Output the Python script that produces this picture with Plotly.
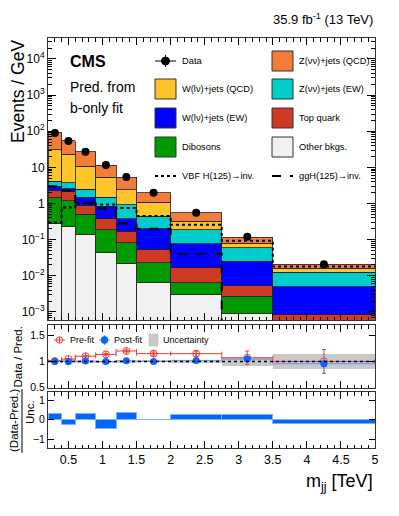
import numpy as np
import plotly.graph_objects as go

# m_jj bin edges (TeV)
edges = [0.2, 0.4, 0.6, 0.9, 1.2, 1.5, 2.0, 2.75, 3.5, 5.0]

# post-fit (b-only) yields, events / GeV, stacked bottom -> top
other_bkgs = [0.28, 0.23, 0.14, 0.044, 0.022, 0.0064, 0.003, 0.0009, 0.0003]
dibosons = [1.22, 0.97, 0.36, 0.146, 0.061, 0.0166, 0.0035, 0.0018, 0.0002]
top_quark = [0.8, 0.9, 0.38, 0.19, 0.087, 0.03, 0.0105, 0.0026, 0.00035]
wlv_ew = [0.7, 0.5, 0.62, 0.45, 0.21, 0.147, 0.06, 0.0197, 0.00415]
znn_ew = [1.1, 1.2, 1.0, 0.67, 0.56, 0.24, 0.113, 0.035, 0.0075]
wlv_qcd = [26.9, 19.2, 8.2, 3.8, 1.46, 0.63, 0.13, 0.02, 0.0035]
znn_qcd = [61.0, 32.0, 16.3, 6.3, 2.9, 0.93, 0.23, 0.035, 0.005]

data = [90.0, 54.0, 27.0, 11.6, 5.4, 2.0, 0.56, 0.12, 0.021]
data_err = [0.7, 0.5, 0.3, 0.2, 0.13, 0.06, 0.027, 0.013, 0.004]

vbf_signal = [0.3, 0.78, 1.0, 0.94, 0.75, 0.45, 0.26, 0.094, 0.018]
ggh_signal = [3.0, 2.3, 1.05, 0.73, 0.28, 0.2, 0.041, 0.0004, 0.0001]

# ratio panel
prefit_ratio = [1.01, 1.045, 1.10, 1.135, 1.20, 1.15, 1.15, 1.07, 1.0]
prefit_err = [0.01, 0.01, 0.012, 0.015, 0.02, 0.03, 0.05, 0.13, 0.23]
postfit_ratio = [1.0, 0.995, 1.01, 1.0, 1.015, 1.0, 1.02, 1.045, 0.955]
postfit_err = [0.01, 0.01, 0.012, 0.015, 0.02, 0.03, 0.05, 0.12, 0.2]
uncertainty = [0.01, 0.01, 0.012, 0.015, 0.015, 0.02, 0.03, 0.08, 0.14]

# pull panel
pulls = [0.3, -0.25, 0.3, -0.43, 0.35, 0.02, 0.27, 0.26, -0.2]

FONT = "Liberation Sans, Arial, sans-serif"
OFF = 8  # page body margin
W, H = 399 - OFF, 516 - OFF
L, R, T, B = 48, 375, 38, 448  # frame in window pixels

COLORS = {
    "Other bkgs.": "#f0f0f0",
    "Dibosons": "#009a00",
    "Top quark": "#cf3a22",
    "W(lν)+jets (EW)": "#0000ff",
    "Z(νν)+jets (EW)": "#00cccc",
    "W(lν)+jets (QCD)": "#fec52a",
    "Z(νν)+jets (QCD)": "#f47c3a",
}

edges_a = np.array(edges)
centers = 0.5 * (edges_a[1:] + edges_a[:-1])
widths = edges_a[1:] - edges_a[:-1]


def px(xp):
    return (xp - L) / (R - L)


def py(yp):
    return (B - yp) / (B - T)


fig = go.Figure()

stack = [
    ("Other bkgs.", other_bkgs),
    ("Dibosons", dibosons),
    ("Top quark", top_quark),
    ("W(lν)+jets (EW)", wlv_ew),
    ("Z(νν)+jets (EW)", znn_ew),
    ("W(lν)+jets (QCD)", wlv_qcd),
    ("Z(νν)+jets (QCD)", znn_qcd),
]
for name, vals in stack:
    fig.add_trace(go.Bar(
        x=centers, y=vals, width=widths, name=name,
        marker=dict(color=COLORS[name], line=dict(color="#222222", width=0.8)),
        xaxis="x", yaxis="y", showlegend=False,
    ))


def step(vals):
    return list(edges_a), list(vals) + [vals[-1]]


sx, sy = step(vbf_signal)
fig.add_trace(go.Scatter(x=sx, y=sy, mode="lines", line=dict(shape="hv", color="black", width=2, dash="dot"),
                         xaxis="x", yaxis="y", showlegend=False))
sx, sy = step(ggh_signal)
fig.add_trace(go.Scatter(x=sx, y=sy, mode="lines", line=dict(shape="hv", color="black", width=2, dash="dash"),
                         xaxis="x", yaxis="y", showlegend=False))

fig.add_trace(go.Scatter(
    x=centers, y=data, mode="markers",
    marker=dict(color="black", size=8),
    error_y=dict(type="data", array=data_err, color="black", thickness=1, width=0),
    xaxis="x", yaxis="y", showlegend=False,
))

# ratio panel
unc = np.array(uncertainty)
fig.add_trace(go.Bar(
    x=centers, y=2 * unc, base=1 - unc, width=widths,
    marker=dict(color="#c8c8c8", line=dict(width=0)),
    xaxis="x2", yaxis="y2", showlegend=False,
))
fig.add_trace(go.Scatter(
    x=centers, y=prefit_ratio, mode="markers",
    marker=dict(symbol="circle-cross-open", color="#f03c3c", size=7, line=dict(width=1)),
    error_y=dict(type="data", array=prefit_err, color="#f03c3c", thickness=1, width=2),
    error_x=dict(type="data", array=list(widths / 2), color="#f03c3c", thickness=1, width=2),
    xaxis="x2", yaxis="y2", showlegend=False,
))
fig.add_trace(go.Scatter(
    x=centers, y=postfit_ratio, mode="markers",
    marker=dict(symbol="circle", color="#0a64ff", size=7),
    error_y=dict(type="data", array=postfit_err, color="#5f96ff", thickness=1, width=0),
    error_x=dict(type="data", array=list(widths / 2), color="#5f96ff", thickness=1, width=0),
    xaxis="x2", yaxis="y2", showlegend=False,
))

# pull panel
fig.add_trace(go.Bar(
    x=centers, y=pulls, width=widths,
    marker=dict(color="#0066ff", line=dict(color="#7fb0ff", width=1)),
    xaxis="x3", yaxis="y3", showlegend=False,
))

shapes = [dict(type="line", xref="x2", yref="y2", x0=edges[0], x1=edges[-1], y0=1, y1=1,
               line=dict(color="black", width=1.5, dash="dot"))]
annotations = []


def text(x, y, s, size, anchor="left", **kw):
    annotations.append(dict(xref="paper", yref="paper", x=px(x), y=py(y), text=s, showarrow=False,
                            xanchor=anchor, yanchor="middle", font=dict(family=FONT, size=size, color="black"), **kw))


def vtext(x, y, s, size, yanchor="middle"):
    annotations.append(dict(xref="paper", yref="paper", x=px(x), y=py(y), text=s, textangle=-90,
                            showarrow=False, xanchor="center", yanchor=yanchor,
                            font=dict(family=FONT, size=size, color="black")))


def box(x0, y0, x1, y1, color, line="#333333"):
    shapes.append(dict(type="rect", xref="paper", yref="paper", x0=px(x0), x1=px(x1), y0=py(y1), y1=py(y0),
                       fillcolor=color, line=dict(color=line, width=1)))


def seg(x0, y0, x1, y1, color="black", width=1, dash="solid"):
    shapes.append(dict(type="line", xref="paper", yref="paper", x0=px(x0), x1=px(x1), y0=py(y0), y1=py(y1),
                       line=dict(color=color, width=width, dash=dash)))


def dot(x, y, r, color, fill=True):
    shapes.append(dict(type="circle", xref="paper", yref="paper", x0=px(x - r), x1=px(x + r),
                       y0=py(y + r), y1=py(y - r), fillcolor=color if fill else "rgba(0,0,0,0)",
                       line=dict(color=color, width=1)))


LEG = 9.3

# main legend
seg(155, 61, 176, 61)
seg(165.5, 55, 165.5, 67)
dot(165.5, 61, 4, "black")
text(180, 61, "Data", LEG)
rows = [(89, "W(lν)+jets (QCD)", "Z(νν)+jets (EW)"),
        (118, "W(lν)+jets (EW)", "Top quark"),
        (147, "Dibosons", "Other bkgs.")]
box(272, 51, 293, 71, COLORS["Z(νν)+jets (QCD)"])
text(297, 61, "Z(νν)+jets (QCD)", LEG)
for yc, left, right in rows:
    box(155, yc - 10, 176, yc + 10, COLORS[left])
    text(180, yc, left, LEG)
    box(272, yc - 10, 293, yc + 10, COLORS[right])
    text(297, yc, right, LEG)
seg(155, 176, 176, 176, width=2, dash="dot")
text(180, 176, "VBF H(125)→inv.", LEG)
seg(272, 176, 293, 176, width=2, dash="dash")
text(297, 176, "ggH(125)→inv.", LEG)

# ratio legend
seg(54, 340, 65, 340, color="#f03c3c")
dot(59.5, 340, 3.2, "#f03c3c", fill=False)
seg(59.5, 336.8, 59.5, 343.2, color="#f03c3c")
text(68, 340, "Pre-fit", 9)
seg(99, 340, 110, 340, color="#5f96ff")
seg(104.5, 335, 104.5, 345, color="#5f96ff")
dot(104.5, 340, 3.4, "#0a64ff")
text(112, 340, "Post-fit", 9)
box(149, 334, 158, 346, "#c8c8c8", line="#c8c8c8")
text(161, 340, "Uncertainty", 9)

# labels
text(68, 61, "<b>CMS</b>", 16)
text(68, 87, "Pred. from", 14)
text(68, 108, "b-only fit", 14)
text(375, 19, "35.9 fb<sup>-1</sup> (13 TeV)", 13, anchor="right")
text(375, 482, "m<sub>jj</sub> [TeV]", 18, anchor="right")
vtext(17.5, 38, "Events / GeV", 17.5, yanchor="top")
vtext(17, 325, "Data / Pred.", 11.5, yanchor="top")
vtext(14, 421, "(Data-Pred.)", 11.5)
vtext(30, 412, "Unc.", 11.5)
seg(22, 389, 22, 453)

decades = list(range(-3, 5))
main_ticks = [10.0 ** d for d in decades]
main_text = ["10<sup>%d</sup>" % d if d not in (0, 1) else str(10 ** d) for d in decades]
main_text = [t.replace("<sup>-", "<sup>−") for t in main_text]
minor_vals = [m * 10.0 ** d for d in range(-4, 5) for m in range(2, 10)]

frame = dict(showline=True, linecolor="#333333", linewidth=1, mirror="ticks", showgrid=False, zeroline=False,
             ticks="inside", tickcolor="black", tickfont=dict(family=FONT, size=12, color="black"))

xcommon = dict(range=[0.2, 5.0], tick0=0, dtick=0.5, ticklen=7,
               minor=dict(dtick=0.1, tick0=0, ticks="inside", ticklen=3.5, tickcolor="black"), **frame)

fig.update_layout(
    width=W, height=H,
    margin=dict(l=L - OFF, r=399 - R, t=T - OFF, b=516 - B),
    paper_bgcolor="white", plot_bgcolor="white",
    barmode="stack",
    font=dict(family=FONT, color="black"),
    showlegend=False,
    xaxis=dict(domain=[0, 1], anchor="y", showticklabels=False, **xcommon),
    xaxis2=dict(domain=[0, 1], anchor="y2", matches="x", showticklabels=False, **xcommon),
    xaxis3=dict(domain=[0, 1], anchor="y3", matches="x", showticklabels=True,
                **{**xcommon, "tickfont": dict(family=FONT, size=12.5)}),
    yaxis=dict(domain=[py(320), 1], type="log", range=[np.log10(6e-4), np.log10(3.8e4)],
               tickvals=main_ticks, ticktext=main_text, ticklen=8,
               minor=dict(tickvals=minor_vals, ticks="inside", ticklen=4, tickcolor="black"), **frame),
    yaxis2=dict(domain=[py(388), py(325)], range=[0.49, 1.7], tickvals=[0.5, 1, 1.5], ticktext=["0.5", "1", "1.5"],
                ticklen=6, **{**frame, "tickfont": dict(family=FONT, size=10.5)}),
    yaxis3=dict(domain=[0, py(392)], range=[-1.45, 1.42], tickvals=[-1, 0, 1], ticktext=["−1", "0", "1"],
                ticklen=6, **{**frame, "tickfont": dict(family=FONT, size=10.5)}),
    shapes=shapes,
    annotations=annotations,
)

fig.write_html("out.html")
